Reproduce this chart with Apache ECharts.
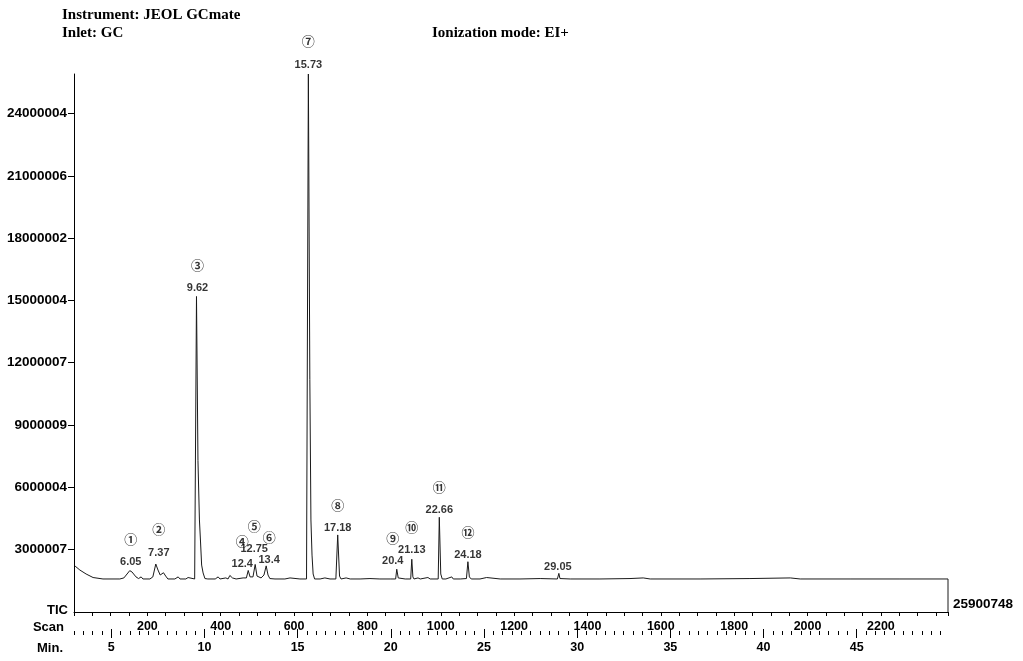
<!DOCTYPE html>
<html>
<head>
<meta charset="utf-8">
<script src="https://cdn.jsdelivr.net/npm/echarts@6/dist/echarts.min.js"></script>
<style>
html,body{margin:0;padding:0;background:#fff;}
#chart{width:1023px;height:661px;}
</style>
</head>
<body>
<div id="chart"></div>
<script>
// ---- Data ----
const scans = [3,16,33,52,79,125,136,152,158,169,176,183,188,207,215,223,229,235,239,244,250,256,275,284,289,305,311,316,329,334,338,342,345,348,352,357,365,385,393,398,414,420,425,432,442,461,466,470,475,480,484,488,494,499,504,510,518,524,529,534,548,575,589,616,634,639,643,646,649,652,656,671,684,698,714,719,724,728,742,753,780,807,834,862,877,880,884,889,903,918,921,924,927,938,944,965,971,993,996,1000,1004,1014,1030,1034,1053,1070,1074,1078,1083,1107,1125,1129,1162,1216,1271,1318,1322,1325,1353,1434,1516,1552,1571,1707,1843,1953,1980,2116,2252,2383,2383];
const intensities = [2210000,2020000,1830000,1660000,1590000,1590000,1640000,1990000,1930000,1690000,1610000,1690000,1590000,1590000,1690000,2310000,2020000,1780000,1810000,1890000,1730000,1590000,1590000,1690000,1590000,1590000,1660000,1590000,1590000,15190000,7300000,4430000,3370000,2260000,1880000,1610000,1590000,1590000,1690000,1590000,1640000,1590000,1760000,1640000,1590000,1640000,1590000,1640000,2000000,1690000,1640000,1690000,2290000,1730000,1660000,1640000,1780000,2220000,1780000,1610000,1590000,1590000,1640000,1590000,1590000,25900748,11200000,4430000,2740000,1830000,1590000,1590000,1640000,1590000,1590000,3710000,1730000,1590000,1640000,1590000,1590000,1610000,1590000,1590000,1590000,2060000,1640000,1590000,1590000,1590000,2540000,1690000,1590000,1640000,1590000,1660000,1590000,1590000,4560000,1830000,1590000,1590000,1690000,1590000,1590000,1610000,2420000,1690000,1590000,1590000,1660000,1590000,1590000,1590000,1610000,1590000,1860000,1610000,1590000,1590000,1610000,1640000,1590000,1590000,1610000,1640000,1590000,1590000,1590000,1590000,0];

const peakNumbers = ['①','②','③','④','⑤','⑥','⑦','⑧','⑨','⑩','⑪','⑫',''];
const peakTimes = ['6.05','7.37','9.62','12.4','12.75','13.4','15.73','17.18','20.4','21.13','22.66','24.18','29.05'];
const peakScans = [152,223,334,475,494,524,639,719,880,921,996,1074,1322];
const peakHeights = [1990000,2310000,15190000,2000000,2290000,2220000,25900748,3710000,2060000,2540000,4560000,2420000,1860000];

const yTickLabels = [3000007,6000004,9000009,12000007,15000004,18000002,21000006,24000004];
const scanTickLabels = [200,400,600,800,1000,1200,1400,1600,1800,2000,2200];
const minTickLabels = [5,10,15,20,25,30,35,40,45];
const yMax = 25900748;
const scanMax = 2383;
const minStart = 3.0, minEnd = 49.9;

// ---- layout helpers (not data) ----
const labelNudge = [[1,0],[3,-3],[1,0],[-6,2],[-1,-7],[3,3],[0,-1],[0,2],[-4,0],[0,-1],[0,1],[0,2],[-1,2]];
const minMinorTicks = [];
for (let v = 3; v <= 49.5 + 1e-9; v += 0.5) minMinorTicks.push(+v.toFixed(1));

const trace = scans.map((s, i) => [s, intensities[i]]);
const peakData = peakScans.map((s, i) => [s, peakHeights[i]]);

const sans = '"Liberation Sans", Arial, sans-serif';
const chart = echarts.init(document.getElementById('chart'), null, {renderer: 'canvas'});
chart.setOption({
  animation: false,
  backgroundColor: '#fff',
  grid: { left: 74, right: 75, top: 74, bottom: 49, containLabel: false },
  xAxis: [
    {
      type: 'value', min: 0, max: scanMax, interval: 50, position: 'bottom',
      axisLine: { show: true, lineStyle: { color: '#000', width: 1 } },
      axisTick: { show: true, length: 4, lineStyle: { color: '#000' } },
      axisLabel: { customValues: scanTickLabels, margin: 8, color: '#000', fontFamily: sans, fontWeight: 'bold', fontSize: 12.5,
        formatter: v => String(v) },
      splitLine: { show: false }
    },
    {
      type: 'value', min: minStart, max: minEnd, position: 'bottom', offset: 19,
      axisLine: { show: false },
      axisTick: { show: true, customValues: minMinorTicks, length: 4, lineStyle: { color: '#000' } },
      axisLabel: { show: false },
      splitLine: { show: false }
    },
    {
      type: 'value', min: minStart, max: minEnd, position: 'bottom', offset: 17,
      axisLine: { show: false },
      axisTick: { show: true, customValues: minTickLabels, length: 9, lineStyle: { color: '#000' } },
      axisLabel: { customValues: minTickLabels, margin: 12, color: '#000', fontFamily: sans, fontWeight: 'bold', fontSize: 12.5,
        formatter: v => String(v) },
      splitLine: { show: false }
    }
  ],
  yAxis: {
    type: 'value', min: 0, max: yMax,
    axisLine: { show: true, lineStyle: { color: '#000', width: 1 } },
    axisTick: { show: true, customValues: yTickLabels, length: 6, lineStyle: { color: '#000' } },
    axisLabel: { customValues: yTickLabels, margin: 7, color: '#000', fontFamily: sans, fontWeight: 'bold', fontSize: 13.5,
      formatter: v => String(v) },
    splitLine: { show: false }
  },
  series: [
    {
      type: 'line', xAxisIndex: 0, yAxisIndex: 0, data: trace,
      symbol: 'none', smooth: false, z: 2,
      lineStyle: { color: '#1a1a1a', width: 1 }
    },
    {
      type: 'scatter', xAxisIndex: 0, yAxisIndex: 0, data: peakData,
      symbol: 'circle', symbolSize: 1, silent: true, z: 3,
      itemStyle: { color: 'rgba(0,0,0,0)' },
      label: {
        show: true, position: 'top', distance: 2, color: '#000',
        formatter: p => (peakNumbers[p.dataIndex] ? '{c|' + peakNumbers[p.dataIndex] + '}\n' : '') + '{t|' + peakTimes[p.dataIndex] + '}',
        rich: {
          c: { fontFamily: '"Noto Sans CJK SC", "DejaVu Sans", sans-serif', fontSize: 13, fontWeight: 'bold', lineHeight: 34, color: '#000' },
          t: { fontFamily: sans, fontSize: 11, fontWeight: 'bold', lineHeight: 12, color: '#000' }
        }
      },
      labelLayout: p => ({ dx: labelNudge[p.dataIndex][0], dy: labelNudge[p.dataIndex][1], hideOverlap: false })
    }
  ],
  graphic: [
    { type: 'text', x: 62, y: 15, style: { text: 'Instrument: JEOL GCmate', font: 'bold 15px "Liberation Serif", "Times New Roman", serif', fill: '#000', verticalAlign: 'middle' } },
    { type: 'text', x: 62, y: 33, style: { text: 'Inlet: GC', font: 'bold 15px "Liberation Serif", "Times New Roman", serif', fill: '#000', verticalAlign: 'middle' } },
    { type: 'text', x: 432, y: 33, style: { text: 'Ionization mode: EI+', font: 'bold 15px "Liberation Serif", "Times New Roman", serif', fill: '#000', verticalAlign: 'middle' } },
    { type: 'text', x: 68, y: 610, style: { text: 'TIC', font: 'bold 13px "Liberation Sans", Arial, sans-serif', fill: '#000', align: 'right', verticalAlign: 'middle' } },
    { type: 'text', x: 64, y: 627, style: { text: 'Scan', font: 'bold 13px "Liberation Sans", Arial, sans-serif', fill: '#000', align: 'right', verticalAlign: 'middle' } },
    { type: 'text', x: 63, y: 648, style: { text: 'Min.', font: 'bold 13px "Liberation Sans", Arial, sans-serif', fill: '#000', align: 'right', verticalAlign: 'middle' } },
    { type: 'text', x: 953, y: 604, style: { text: String(yMax), font: 'bold 13.5px "Liberation Sans", Arial, sans-serif', fill: '#000', align: 'left', verticalAlign: 'middle' } }
  ]
});
</script>
</body>
</html>
